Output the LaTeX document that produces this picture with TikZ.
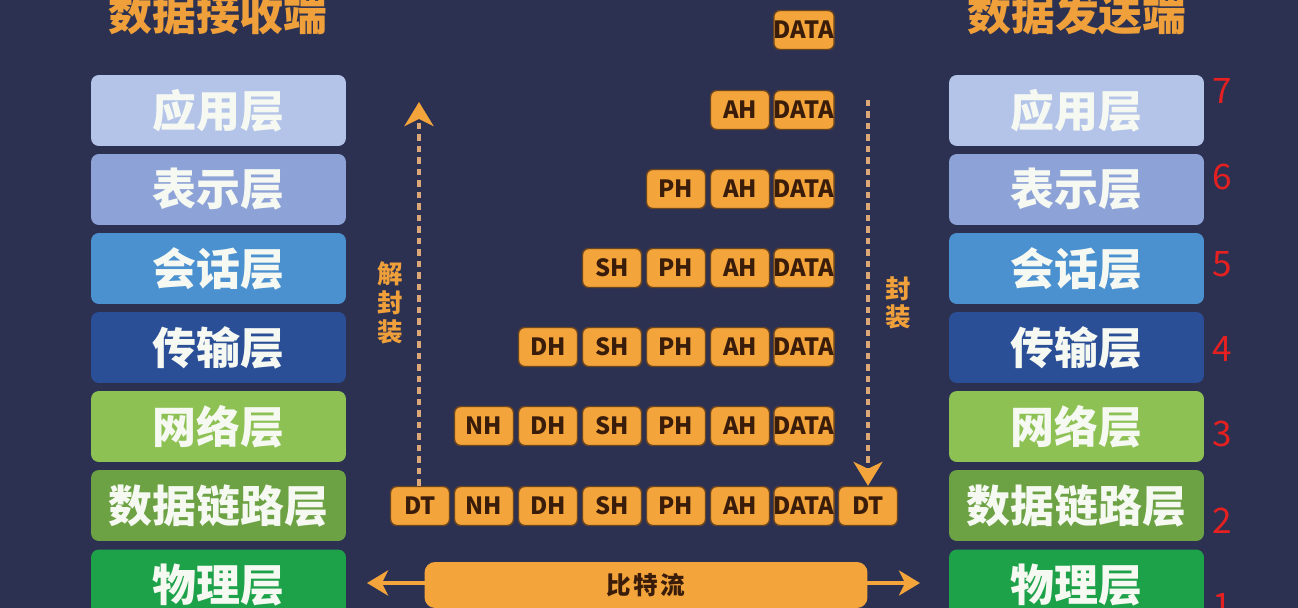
\documentclass[tikz,border=0pt]{standalone}
\usepackage{fontspec}
\setmainfont{Noto Sans CJK SC}
\usetikzlibrary{arrows.meta}

\definecolor{bgnavy}{HTML}{2C3152}
\definecolor{appcol}{HTML}{B4C4E8}
\definecolor{prescol}{HTML}{8DA2D6}
\definecolor{sesscol}{HTML}{4B91D0}
\definecolor{transcol}{HTML}{2B4F97}
\definecolor{netcol}{HTML}{8DC153}
\definecolor{linkcol}{HTML}{6CA243}
\definecolor{physcol}{HTML}{1DA24A}
\definecolor{layertext}{HTML}{F6F9F2}
\definecolor{titleorange}{HTML}{EFA03A}
\definecolor{pktfill}{HTML}{F3A43A}
\definecolor{pktline}{HTML}{6B4420}
\definecolor{pkttext}{HTML}{3A1C0A}
\definecolor{dashpeach}{HTML}{DCA878}
\definecolor{numred}{HTML}{E42020}

\begin{document}
\begin{tikzpicture}[
    x=0.02cm, y=-0.02cm,
    layer/.style={rectangle, rounded corners=4.5pt, minimum width=5.1cm,
        minimum height=1.42cm, inner sep=0pt, text=layertext,
        font=\bfseries\fontsize{25}{25}\selectfont},
    packet/.style={rectangle, rounded corners=3.5pt, draw=pktline,
        line width=0.8pt, fill=pktfill, minimum width=1.18cm,
        minimum height=0.78cm, inner sep=0pt, text=pkttext,
        font=\bfseries\fontsize{13.5}{14}\selectfont},
    title/.style={text=titleorange, font=\bfseries\fontsize{25}{25}\selectfont},
    side/.style={text=titleorange, align=center,
        font=\bfseries\fontsize{14.5}{16.4}\selectfont},
    num/.style={text=numred, font=\fontsize{20}{20}\selectfont},
    flow/.style={draw=dashpeach, line width=2.1pt,
        dash pattern=on 0.13cm off 0.1cm,
        -{Stealth[length=0.48cm, width=0.58cm, inset=0.14cm, color=pktfill]}},
    stream/.style={draw=pktfill, line width=2pt,
        {Stealth[length=0.42cm, width=0.5cm, inset=0.12cm]}-{Stealth[length=0.42cm, width=0.5cm, inset=0.12cm]}},
    bar/.style={rectangle, rounded corners=6pt, fill=pktfill,
        minimum width=8.86cm, minimum height=0.92cm, inner sep=0pt,
        text=pkttext, font=\bfseries\fontsize{14}{14}\selectfont}
]
    \useasboundingbox (0,0) rectangle (1298,608);
    \fill[bgnavy] (0,0) rectangle (1298,608);
    \clip (0,0) rectangle (1298,608);

    % titles
    \node[title] (rxtitle) at (218,14) {数据接收端};
    \node[title] (txtitle) at (1077,14) {数据发送端};

    % receiver layers
    \node[layer, fill=appcol] (rx7) at (218.5,110.5) {应用层};
    \node[layer, fill=prescol] (rx6) at (218.5,189.5) {表示层};
    \node[layer, fill=sesscol] (rx5) at (218.5,268.5) {会话层};
    \node[layer, fill=transcol] (rx4) at (218.5,347.5) {传输层};
    \node[layer, fill=netcol] (rx3) at (218.5,426.5) {网络层};
    \node[layer, fill=linkcol] (rx2) at (218.5,505.5) {数据链路层};
    \node[layer, fill=physcol] (rx1) at (218.5,585) {物理层};

    % sender layers
    \node[layer, fill=appcol] (tx7) at (1076.5,110.5) {应用层};
    \node[layer, fill=prescol] (tx6) at (1076.5,189.5) {表示层};
    \node[layer, fill=sesscol] (tx5) at (1076.5,268.5) {会话层};
    \node[layer, fill=transcol] (tx4) at (1076.5,347.5) {传输层};
    \node[layer, fill=netcol] (tx3) at (1076.5,426.5) {网络层};
    \node[layer, fill=linkcol] (tx2) at (1076.5,505.5) {数据链路层};
    \node[layer, fill=physcol] (tx1) at (1076.5,585) {物理层};

    % layer numbers
    \node[num] (n7) at (1222,91) {7};
    \node[num] (n6) at (1222,177) {6};
    \node[num] (n5) at (1222,264) {5};
    \node[num] (n4) at (1222,349) {4};
    \node[num] (n3) at (1222,434) {3};
    \node[num] (n2) at (1222,521) {2};
    \node[num] (n1) at (1222,606) {1};

    % packets
    \node[packet] (data0) at (804,30) {DATA};

    \node[packet] (ah1) at (740,110) {AH};
    \node[packet] (data1) at (804,110) {DATA};

    \node[packet] (ph2) at (676,189) {PH};
    \node[packet] (ah2) at (740,189) {AH};
    \node[packet] (data2) at (804,189) {DATA};

    \node[packet] (sh3) at (612,268) {SH};
    \node[packet] (ph3) at (676,268) {PH};
    \node[packet] (ah3) at (740,268) {AH};
    \node[packet] (data3) at (804,268) {DATA};

    \node[packet] (dh4) at (548,347) {DH};
    \node[packet] (sh4) at (612,347) {SH};
    \node[packet] (ph4) at (676,347) {PH};
    \node[packet] (ah4) at (740,347) {AH};
    \node[packet] (data4) at (804,347) {DATA};

    \node[packet] (nh5) at (484,426) {NH};
    \node[packet] (dh5) at (548,426) {DH};
    \node[packet] (sh5) at (612,426) {SH};
    \node[packet] (ph5) at (676,426) {PH};
    \node[packet] (ah5) at (740,426) {AH};
    \node[packet] (data5) at (804,426) {DATA};

    \node[packet] (dtl) at (420,506) {DT};
    \node[packet] (nh6) at (484,506) {NH};
    \node[packet] (dh6) at (548,506) {DH};
    \node[packet] (sh6) at (612,506) {SH};
    \node[packet] (ph6) at (676,506) {PH};
    \node[packet] (ah6) at (740,506) {AH};
    \node[packet] (data6) at (804,506) {DATA};
    \node[packet] (dtr) at (868,506) {DT};

    % decapsulation / encapsulation arrows
    \coordinate (up) at (419,102);
    \coordinate (down) at (868,100);
    \draw[flow] (dtl.north -| up) -- (up);
    \draw[flow] (down) -- (dtr.north);
    \node[side] (decap) at (390,303) {解\\封\\装};
    \node[side] (encap) at (898,303) {封\\装};

    % bit stream
    \coordinate (bl) at (367,583);
    \coordinate (br) at (920,583);
    \draw[stream] (bl) -- (br);
    \node[bar] (bits) at (646,585) {比\hspace{1.5pt}特\hspace{1.5pt}流};
\end{tikzpicture}
\end{document}
